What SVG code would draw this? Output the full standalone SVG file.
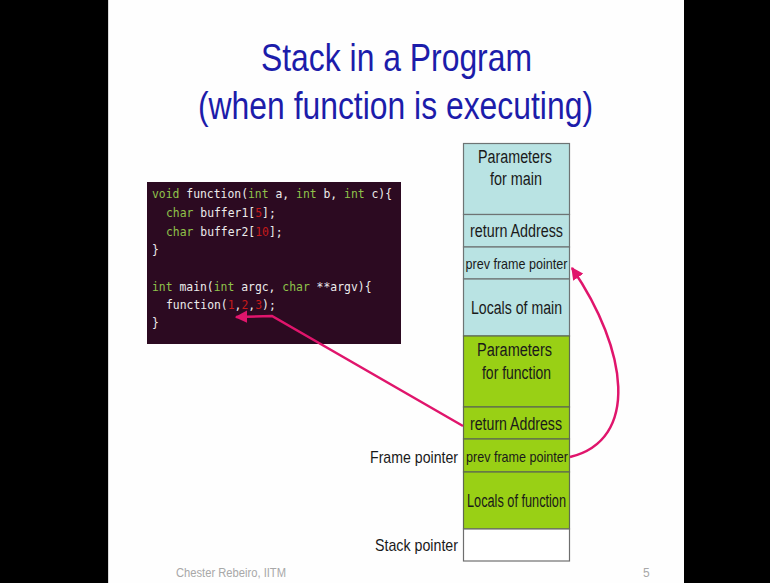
<svg xmlns="http://www.w3.org/2000/svg" width="770" height="583" viewBox="0 0 770 583">
<style>
.t{font-family:"Liberation Sans",Arial,sans-serif;fill:#1a1a1a;text-anchor:middle}
.title{font-family:"Liberation Sans",Arial,sans-serif;fill:#1c1caa;font-size:39px;text-anchor:middle}
.lbl{font-family:"Liberation Sans",Arial,sans-serif;fill:#1a1a1a;font-size:17px;text-anchor:end}
.code{font-family:"DejaVu Sans Mono","Liberation Mono",monospace;font-size:11.4px;fill:#ececec}
.k{fill:#8fc24a}
.n{fill:#c41a1a}
.blue{fill:#b9e3e3;stroke:#6e7474;stroke-width:1.2}
.green{fill:#99d015;stroke:#5e6a50;stroke-width:1.2}
.white{fill:#ffffff;stroke:#6e6e6e;stroke-width:1.2}
.arrow{fill:none;stroke:#e0156c;stroke-width:2.5}
.foot{font-family:"Liberation Sans",Arial,sans-serif;fill:#a8a8a8;font-size:12px}
</style>
<defs>
<marker id="ah" viewBox="0 0 10 10" refX="9" refY="5" markerWidth="5" markerHeight="5" orient="auto-start-reverse" markerUnits="strokeWidth">
<path d="M0,0 L10,5 L0,10 z" fill="#e0156c"/>
</marker>
</defs>
<rect x="0" y="0" width="770" height="583" fill="#000"/>
<rect x="108" y="0" width="576" height="583" fill="#fefefe"/>
<line x1="108.5" y1="0" x2="108.5" y2="583" stroke="#d8d8d8"/>

<g id="title">
<text class="title" x="396.5" y="71" textLength="271" lengthAdjust="spacingAndGlyphs">Stack in a Program</text>
<text class="title" x="395.5" y="119" textLength="395" lengthAdjust="spacingAndGlyphs">(when function is executing)</text>
</g>

<g id="code">
<rect x="147" y="182" width="254" height="162" fill="#2c0a21"/>
<text class="code" x="152" y="198"><tspan class="k">void</tspan> function(<tspan class="k">int</tspan> a, <tspan class="k">int</tspan> b, <tspan class="k">int</tspan> c){</text>
<text class="code" x="166" y="217"><tspan class="k">char</tspan> buffer1[<tspan class="n">5</tspan>];</text>
<text class="code" x="166" y="236"><tspan class="k">char</tspan> buffer2[<tspan class="n">10</tspan>];</text>
<text class="code" x="152" y="254">}</text>
<text class="code" x="152" y="291"><tspan class="k">int</tspan> main(<tspan class="k">int</tspan> argc, <tspan class="k">char</tspan> **argv){</text>
<text class="code" x="166" y="309">function(<tspan class="n">1</tspan>,<tspan class="n">2</tspan>,<tspan class="n">3</tspan>);</text>
<text class="code" x="152" y="327">}</text>
</g>

<g id="params-main">
<rect class="blue" x="463.5" y="143.5" width="106" height="71"/>
<text class="t" x="515" y="163" font-size="18" textLength="74" lengthAdjust="spacingAndGlyphs">Parameters</text>
<text class="t" x="516" y="185" font-size="18" textLength="52" lengthAdjust="spacingAndGlyphs">for main</text>
</g>
<g id="ret-main">
<rect class="blue" x="463.5" y="214.5" width="106" height="32.5"/>
<text class="t" x="516.5" y="237" font-size="18" textLength="93" lengthAdjust="spacingAndGlyphs">return Address</text>
</g>
<g id="pfp-main">
<rect class="blue" x="463.5" y="247" width="106" height="32"/>
<text class="t" x="516.5" y="269" font-size="15" textLength="102" lengthAdjust="spacingAndGlyphs">prev frame pointer</text>
</g>
<g id="locals-main">
<rect class="blue" x="463.5" y="279" width="106" height="57"/>
<text class="t" x="516.5" y="314" font-size="18" textLength="91" lengthAdjust="spacingAndGlyphs">Locals of main</text>
</g>
<g id="params-function">
<rect class="green" x="463.5" y="336" width="106" height="71"/>
<text class="t" x="514.5" y="356" font-size="18" textLength="75" lengthAdjust="spacingAndGlyphs">Parameters</text>
<text class="t" x="516.5" y="379" font-size="18" textLength="69" lengthAdjust="spacingAndGlyphs">for function</text>
</g>
<g id="ret-function">
<rect class="green" x="463.5" y="407" width="106" height="32"/>
<text class="t" x="516" y="430" font-size="18" textLength="92" lengthAdjust="spacingAndGlyphs">return Address</text>
</g>
<g id="pfp-function">
<rect class="green" x="463.5" y="439" width="106" height="33"/>
<text class="t" x="517" y="462" font-size="15" textLength="102" lengthAdjust="spacingAndGlyphs">prev frame pointer</text>
</g>
<g id="locals-function">
<rect class="green" x="463.5" y="472" width="106" height="57"/>
<text class="t" x="516.5" y="507" font-size="18" textLength="99" lengthAdjust="spacingAndGlyphs">Locals of function</text>
</g>
<g id="stack-top">
<rect class="white" x="463.5" y="529" width="106" height="32"/>
</g>

<g id="labels">
<text class="lbl" x="458" y="463" textLength="88" lengthAdjust="spacingAndGlyphs">Frame pointer</text>
<text class="lbl" x="458" y="551" textLength="83" lengthAdjust="spacingAndGlyphs">Stack pointer</text>
</g>

<g id="connectors">
<polyline class="arrow" points="463,426 272,316 236,317" marker-end="url(#ah)"/>
<path class="arrow" d="M570,457 C640,440 628,350 572,268" marker-end="url(#ah)"/>
</g>

<g id="footer">
<text class="foot" x="176" y="577" textLength="110" lengthAdjust="spacingAndGlyphs">Chester Rebeiro, IITM</text>
<text class="foot" x="643" y="577" font-size="13">5</text>
</g>
</svg>
